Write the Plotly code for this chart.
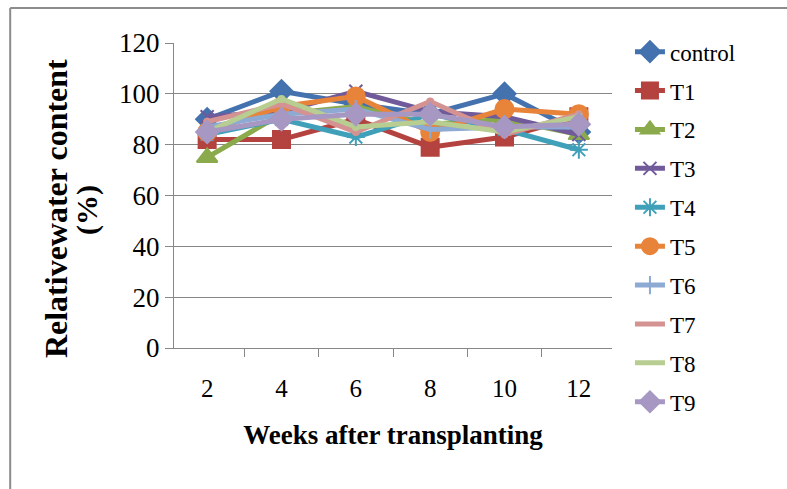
import plotly.graph_objects as go

# Relative water content (%) per treatment, sampled every two weeks
weeks = ["2", "4", "6", "8", "10", "12"]
control = [90, 101, 96, 92, 100, 85]
t1 = [82, 82, 90, 79, 83, 91]
t2 = [75, 92, 95, 88, 90, 84]
t3 = [91, 93, 101, 93, 91, 84]
t4 = [84, 90, 83, 92, 86, 78]
t5 = [85, 95, 99, 85, 94, 92]
t6 = [87, 92, 94, 86, 87, 87]
t7 = [89, 96, 85, 97, 84, 92]
t8 = [85, 98, 87, 89, 85, 91]
t9 = [85, 90, 92, 92, 87, 88]

y_ticks = [0, 20, 40, 60, 80, 100, 120]

series = [
    ("control", control, "#4472AE", "diamond", 17),
    ("T1", t1, "#B4423F", "square", 17),
    ("T2", t2, "#8BAA4C", "triangle-up", 18),
    ("T3", t3, "#715A9A", "x-thin-open", 13),
    ("T4", t4, "#40A0BA", "asterisk-open", 15),
    ("T5", t5, "#E8833A", "circle", 18),
    ("T6", t6, "#8DAAD4", "line-ns-open", 13),
    ("T7", t7, "#D49392", "circle", 0),
    ("T8", t8, "#B7CD91", "circle", 0),
    ("T9", t9, "#A698C2", "diamond", 17),
]

fig = go.Figure()
for i, (name, vals, color, symbol, size) in enumerate(series):
    fig.add_trace(go.Scatter(
        x=weeks, y=vals, name=name, mode="lines+markers",
        legendgroup=f"g{i}",
        line=dict(color=color, width=5),
        marker=dict(symbol=symbol, size=size, color=color,
                    line=dict(color=color, width=2)),
    ))

grid = "#878787"
serif = "Liberation Serif"
fig.update_layout(
    width=787, height=489,
    margin=dict(l=174, r=175, t=43, b=141),
    paper_bgcolor="white", plot_bgcolor="white",
    font=dict(family=serif, color="black"),
    showlegend=True,
    legend=dict(
        x=1.041, xanchor="left", y=1.042, yanchor="top",
        font=dict(size=23, family=serif, color="black"),
        traceorder="grouped", tracegroupgap=6,
        maxheight=1.0,
        bgcolor="rgba(0,0,0,0)", itemclick=False,
    ),
    xaxis=dict(
        type="category", tickson="boundaries",
        ticks="outside", ticklen=8, tickcolor=grid, tickwidth=1,
        showline=True, linecolor=grid, linewidth=1,
        showgrid=False, zeroline=False,
        tickfont=dict(size=25), ticklabelstandoff=18,
        title=dict(text="<b>Weeks after transplanting</b>",
                   font=dict(size=27), standoff=24),
    ),
    yaxis=dict(
        range=[0, 120], tickvals=y_ticks,
        ticks="outside", ticklen=8, tickcolor=grid, tickwidth=1,
        showline=True, linecolor=grid, linewidth=1,
        showgrid=True, gridcolor=grid, gridwidth=1,
        zeroline=False, tickfont=dict(size=27),
    ),
    annotations=[
        dict(text="<b>Relativewater content</b>",
             xref="paper", yref="paper", x=-0.269, y=0.456,
             xanchor="center", yanchor="middle", textangle=-90,
             showarrow=False, font=dict(size=32)),
        dict(text="<b>(%)</b>",
             xref="paper", yref="paper", x=-0.199, y=0.452,
             xanchor="center", yanchor="middle", textangle=-90,
             showarrow=False, font=dict(size=30)),
    ],
    shapes=[
        # outer chart frame (left and top edges)
        dict(type="line", xref="paper", yref="paper",
             x0=-0.374, x1=-0.374, y0=1.115, y1=-0.5,
             line=dict(color="#8C8C8C", width=2)),
        dict(type="line", xref="paper", yref="paper",
             x0=-0.374, x1=1.5, y0=1.115, y1=1.115,
             line=dict(color="#8C8C8C", width=2)),
    ],
)

fig.write_html("out.html")
